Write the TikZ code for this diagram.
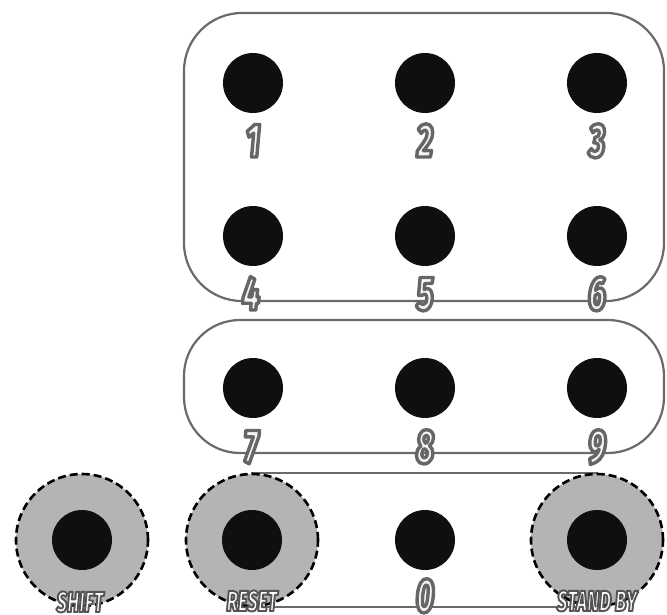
\documentclass[tikz,border=0pt]{standalone}
\usepackage{fontspec}
\newfontfamily\lblfont[FakeStretch=0.64]{Fira Sans ExtraBold Italic}
\definecolor{framegray}{HTML}{6A6A6A}
\definecolor{ringgray}{HTML}{B4B4B4}
\newcommand{\lab}[1]{\special{pdf:literal direct 2 Tr 3.4 w 1 j 0.40 0.40 0.40 RG}#1\special{pdf:literal direct 0 Tr}}
\newcommand{\wlab}[1]{\special{pdf:literal direct 2 Tr 1.9 w 1 j 0.33 0.33 0.33 RG}#1\special{pdf:literal direct 0 Tr}}
\tikzset{
  frame/.style={draw=framegray, line width=2.2pt},
  dot/.style={circle, fill=black!94, minimum size=60pt, inner sep=0pt},
  ring/.style={circle, fill=ringgray, draw=black, line width=2.6pt, dash pattern=on 8pt off 4pt, minimum size=132pt, inner sep=0pt},
  numlbl/.style={anchor=base, inner sep=0pt, text=white!96!black, font=\lblfont\fontsize{48}{48}\selectfont},
  wordlbl/.style={anchor=base, inner sep=0pt, text=white, font=\lblfont\fontsize{29}{29}\selectfont},
}
\begin{document}
\begin{tikzpicture}[x=1pt, y=-1pt]
\useasboundingbox (0,0) rectangle (667,614);
\fill[white] (0,0) rectangle (667,614);
% frames
\draw[frame, rounded corners=58pt] (184,13) rectangle (664,301);
\draw[frame, rounded corners=56pt] (184,320) rectangle (664,453);
\draw[frame] (252,473) rectangle (597,607);
% rings
\node[ring] (rshift) at (82,540) {};
\node[ring] (rreset) at (252,540) {};
\node[ring] (rstand) at (597,540) {};
% dots
\node[dot] (d1) at (253,83) {};
\node[dot] (d2) at (425,83) {};
\node[dot] (d3) at (597,83) {};
\node[dot] (d4) at (253,236) {};
\node[dot] (d5) at (425,236) {};
\node[dot] (d6) at (597,236) {};
\node[dot] (d7) at (253,388) {};
\node[dot] (d8) at (425,388) {};
\node[dot] (d9) at (597,388) {};
\node[dot] (dshift) at (82,540) {};
\node[dot] (dreset) at (252,540) {};
\node[dot] (d0) at (425,540) {};
\node[dot] (dstand) at (597,540) {};
% labels
\node[numlbl] (l1) at (253,157) {\lab{1}};
\node[numlbl] (l2) at (425,157) {\lab{2}};
\node[numlbl] (l3) at (597,157) {\lab{3}};
\node[numlbl] (l4) at (251,310) {\lab{4}};
\node[numlbl] (l5) at (425,310) {\lab{5}};
\node[numlbl] (l6) at (597,310) {\lab{6}};
\node[numlbl] (l7) at (251,463) {\lab{7}};
\node[numlbl] (l8) at (425,463) {\lab{8}};
\node[numlbl] (l9) at (597,463) {\lab{9}};
\node[numlbl] (l0) at (425,612) {\lab{0}};
\node[wordlbl] (lshift) at (80,612) {\wlab{SHIFT}};
\node[wordlbl] (lreset) at (252,611) {\wlab{RESET}};
\node[wordlbl] (lstand) at (597,611) {\wlab{STAND BY}};
\end{tikzpicture}
\end{document}
